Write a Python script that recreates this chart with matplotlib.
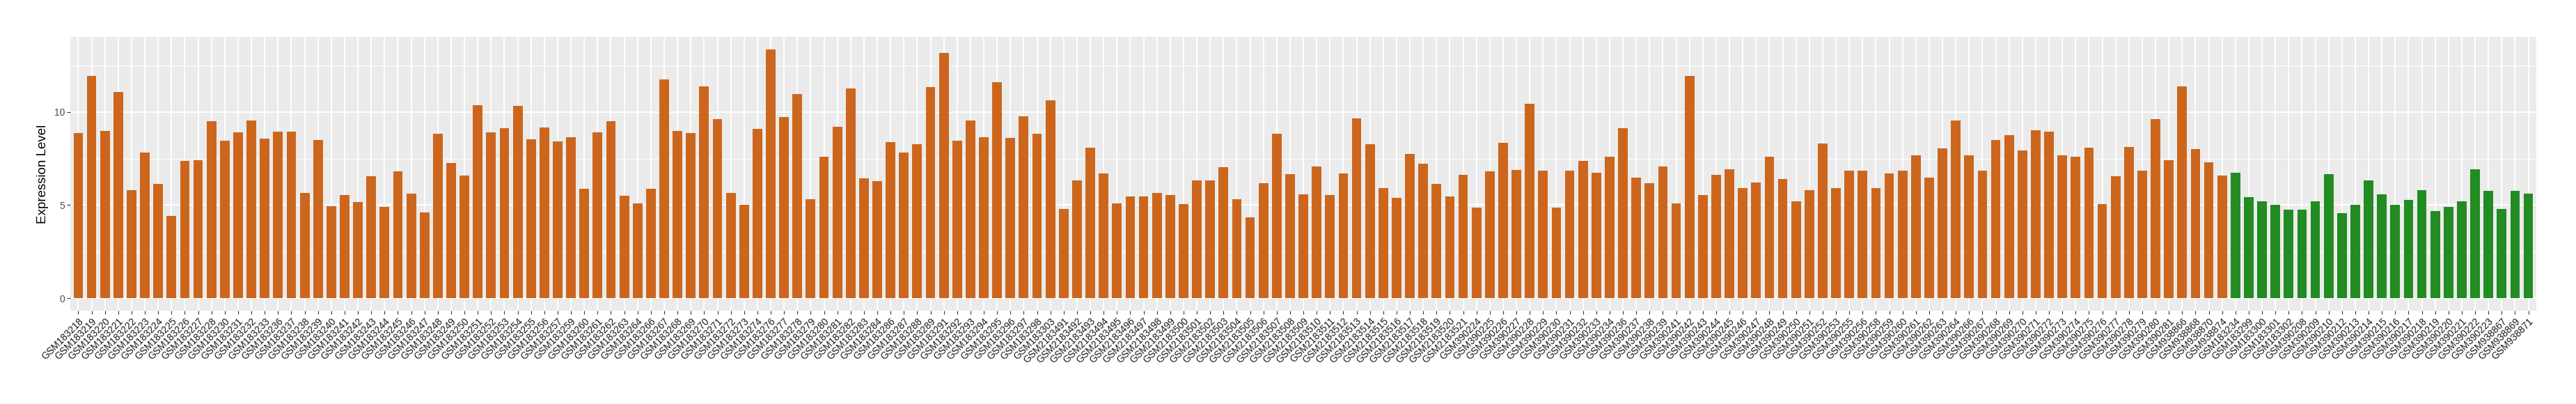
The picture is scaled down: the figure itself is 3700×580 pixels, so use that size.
import matplotlib
matplotlib.use("Agg")
import matplotlib.pyplot as plt
import numpy as np

# sample ids and expression values
tumor_ids = [
    "GSM183218", "GSM183219", "GSM183220", "GSM183221", "GSM183222", "GSM183223",
    "GSM183224", "GSM183225", "GSM183226", "GSM183227", "GSM183228", "GSM183230",
    "GSM183231", "GSM183232", "GSM183233", "GSM183236", "GSM183237", "GSM183238",
    "GSM183239", "GSM183240", "GSM183241", "GSM183242", "GSM183243", "GSM183244",
    "GSM183245", "GSM183246", "GSM183247", "GSM183248", "GSM183249", "GSM183250",
    "GSM183251", "GSM183252", "GSM183253", "GSM183254", "GSM183255", "GSM183256",
    "GSM183257", "GSM183259", "GSM183260", "GSM183261", "GSM183262", "GSM183263",
    "GSM183264", "GSM183266", "GSM183267", "GSM183268", "GSM183269", "GSM183270",
    "GSM183271", "GSM183272", "GSM183273", "GSM183274", "GSM183276", "GSM183277",
    "GSM183278", "GSM183279", "GSM183280", "GSM183281", "GSM183282", "GSM183283",
    "GSM183284", "GSM183286", "GSM183287", "GSM183288", "GSM183289", "GSM183291",
    "GSM183292", "GSM183293", "GSM183294", "GSM183295", "GSM183296", "GSM183297",
    "GSM183298", "GSM183303",
    "GSM2183491", "GSM2183492", "GSM2183493", "GSM2183494", "GSM2183495", "GSM2183496",
    "GSM2183497", "GSM2183498", "GSM2183499", "GSM2183500", "GSM2183501", "GSM2183502",
    "GSM2183503", "GSM2183504", "GSM2183505", "GSM2183506", "GSM2183507", "GSM2183508",
    "GSM2183509", "GSM2183510", "GSM2183511", "GSM2183512", "GSM2183513", "GSM2183514",
    "GSM2183515", "GSM2183516", "GSM2183517", "GSM2183518", "GSM2183519", "GSM2183520",
    "GSM2183521",
    "GSM390224", "GSM390225", "GSM390226", "GSM390227", "GSM390228", "GSM390229",
    "GSM390230", "GSM390231", "GSM390232", "GSM390233", "GSM390234", "GSM390236",
    "GSM390237", "GSM390238", "GSM390239", "GSM390241", "GSM390242", "GSM390243",
    "GSM390244", "GSM390245", "GSM390246", "GSM390247", "GSM390248", "GSM390249",
    "GSM390250", "GSM390251", "GSM390252", "GSM390253", "GSM390255", "GSM390256",
    "GSM390258", "GSM390259", "GSM390260", "GSM390261", "GSM390262", "GSM390263",
    "GSM390264", "GSM390266", "GSM390267", "GSM390268", "GSM390269", "GSM390270",
    "GSM390271", "GSM390272", "GSM390273", "GSM390274", "GSM390275", "GSM390276",
    "GSM390277", "GSM390278", "GSM390279", "GSM390280", "GSM390281",
    "GSM938866", "GSM938868", "GSM938870", "GSM938874",
]
tumor_vals = [
    8.87, 11.92, 8.98, 11.06, 5.82, 7.83, 6.13, 4.40, 7.37, 7.41, 9.51, 8.45,
    8.91, 9.55, 8.58, 8.96, 8.96, 5.64, 8.50, 4.96, 5.53, 5.15, 6.55, 4.89,
    6.81, 5.60, 4.62, 8.84, 7.26, 6.57, 10.38, 8.91, 9.14, 10.31, 8.54, 9.18,
    8.43, 8.65, 5.86, 8.91, 9.51, 5.49, 5.11, 5.86, 11.74, 8.98, 8.87, 11.36,
    9.62, 5.64, 5.00, 9.09, 13.36, 9.71, 10.95, 5.33, 7.59, 9.22, 11.28, 6.43,
    6.28, 8.38, 7.83, 8.27, 11.32, 13.16, 8.45, 9.55, 8.65, 11.59, 8.61, 9.78,
    8.84, 10.61,
    4.80, 6.31, 8.08, 6.69, 5.11, 5.45, 5.45, 5.64, 5.53, 5.07, 6.31, 6.31,
    7.03, 5.33, 4.36, 6.17, 8.84, 6.66, 5.56, 7.06, 5.53, 6.69, 9.67, 8.27,
    5.93, 5.38, 7.74, 7.21, 6.13, 5.45, 6.62,
    4.85, 6.81, 8.34, 6.88, 10.42, 6.84, 4.85, 6.84, 7.37, 6.73, 7.59, 9.14,
    6.46, 6.17, 7.06, 5.11, 11.92, 5.53, 6.62, 6.92, 5.93, 6.20, 7.59, 6.39,
    5.22, 5.82, 8.31, 5.93, 6.84, 6.84, 5.91, 6.69, 6.84, 7.67, 6.46, 8.05,
    9.55, 7.67, 6.84, 8.50, 8.76, 7.94, 9.03, 8.96, 7.67, 7.59, 8.08, 5.07,
    6.55, 8.12, 6.84, 9.62, 7.41,
    11.36, 8.01, 7.30, 6.57,
]
normal_ids = [
    "GSM183234", "GSM183299", "GSM183300", "GSM183301", "GSM183302",
    "GSM390208", "GSM390209", "GSM390210", "GSM390212", "GSM390213", "GSM390214",
    "GSM390215", "GSM390216", "GSM390217", "GSM390218", "GSM390219", "GSM390220",
    "GSM390221", "GSM390222", "GSM390223",
    "GSM938867", "GSM938869", "GSM938871",
]
normal_vals = [
    6.73, 5.42, 5.22, 5.00, 4.74,
    4.74, 5.22, 6.66, 4.58, 5.00, 6.31, 5.56, 5.03, 5.29, 5.82, 4.69, 4.92,
    5.22, 6.92, 5.75,
    4.80, 5.75, 5.60,
]

tumor_col = "#CD661D"
normal_col = "#228B22"

labels = tumor_ids + normal_ids
vals = np.array(tumor_vals + normal_vals)
cols = [tumor_col] * len(tumor_ids) + [normal_col] * len(normal_ids)
x = np.arange(len(labels))

fig = plt.figure(figsize=(37, 5.8), dpi=100)
ax = fig.add_axes([0.0273, 0.231, 0.9573, 0.6776])

# ggplot grey look
ax.set_facecolor("#EBEBEB")
for s in ax.spines.values():
    s.set_visible(False)
ax.set_axisbelow(True)
ax.set_yticks([2.5, 7.5, 12.5], minor=True)
ax.grid(True, which="major", color="white", linewidth=1.4)
ax.grid(True, which="minor", axis="y", color="white", linewidth=0.7)

ax.bar(x, vals, width=0.72, color=cols, zorder=2)

ymax = vals.max()
ax.set_ylim(-0.05 * ymax, ymax * 1.05)
ax.set_xlim(-0.6, len(labels) - 0.4)
ax.set_yticks([0, 5, 10])
ax.set_yticklabels(["0", "5", "10"])
ax.set_xticks(x)
ax.set_xticklabels(labels, rotation=45, ha="right", rotation_mode="anchor")

ax.tick_params(axis="both", which="major", color="#333333", length=3.5, width=0.8,
               labelsize=10, labelcolor="#4D4D4D", pad=2)
ax.tick_params(axis="x", labelcolor="#1A1A1A")
ax.tick_params(which="minor", length=0)
for t in ax.get_xticklabels() + ax.get_yticklabels():
    t.set_fontfamily("Liberation Sans")

ax.set_ylabel("Expression Level", fontsize=13.5, fontfamily="Liberation Sans", labelpad=6)

fig.savefig("out.png", dpi=100)
